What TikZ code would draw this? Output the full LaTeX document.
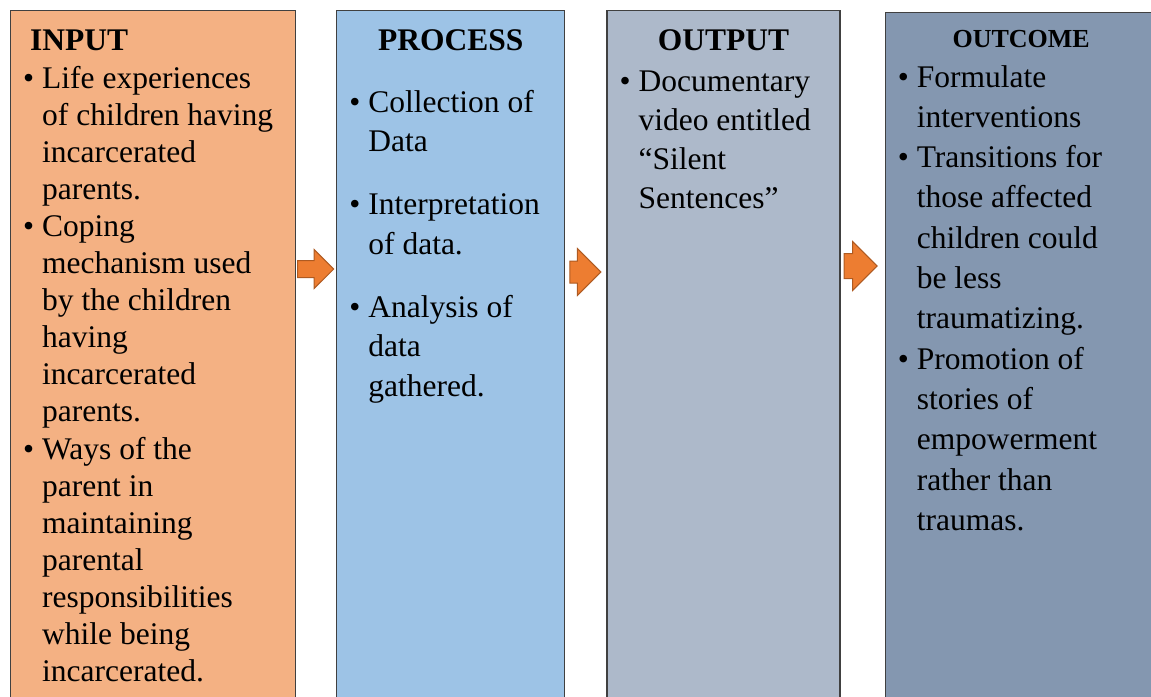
\documentclass[tikz,border=0pt]{standalone}
\usepackage{fontspec}
\setmainfont{Liberation Serif}
\usetikzlibrary{shapes.arrows,positioning,calc}

\definecolor{inputcol}{HTML}{F4B183}
\definecolor{processcol}{HTML}{9DC3E6}
\definecolor{outputcol}{HTML}{ADB9CA}
\definecolor{outcomecol}{HTML}{8497B0}
\definecolor{arrowcol}{HTML}{ED7D31}
\definecolor{arrowline}{HTML}{AE5A21}

\newcommand{\bul}{\makebox[24pt][l]{\hspace{5pt}\textbullet}}

\begin{document}
\begin{tikzpicture}[
      x=1pt,y=-1pt,
      box/.style={rectangle,draw=black!75,line width=1.2pt,anchor=north west,inner sep=0pt,minimum height=700},
      title/.style={font=\fontsize{31.5}{37}\selectfont\bfseries,inner sep=0pt},
      body/.style={inner sep=0pt,anchor=base west},
      arrow/.style={single arrow,draw=arrowline,fill=arrowcol,line width=1pt,inner xsep=0pt,anchor=tail,single arrow head extend=#1}
      ]

      \useasboundingbox (0,0) rectangle (1151,696);
      \clip (0,0) rectangle (1151,696);

      \node[box,fill=inputcol,minimum width=285] at (10,10) (input) {};
      \node[box,fill=processcol,minimum width=228,right=40pt of input.north east,anchor=north west] (process) {};
      \node[box,fill=outputcol,minimum width=233,right=41pt of process.north east,anchor=north west] (output) {};
      \node[box,fill=outcomecol,minimum width=272,right=44pt of output.north east,anchor=north west,yshift=-2pt] (outcome) {};

      \node[title,anchor=base west] at ($(input.north west)+(20,40)$) (inputtitle) {INPUT};
      \node[title,anchor=base] at ($(process.north)+(0,40)$) (processtitle) {PROCESS};
      \node[title,anchor=base] at ($(output.north)+(0,40)$) (outputtitle) {OUTPUT};
      \node[title,anchor=base,font=\fontsize{26}{30}\selectfont\bfseries] at ($(outcome.north)+(0,35)$) (outcometitle) {OUTCOME};

      \node[body,font=\fontsize{31.5}{37.1}\selectfont] at ($(input.north west)+(8,78)$) (inputtext) {%
        \begin{tabular}[t]{@{}l@{}l@{}}
          \bul & Life experiences\\
               & of children having\\
               & incarcerated\\
               & parents.\\
          \bul & Coping\\
               & mechanism used\\
               & by the children\\
               & having\\
               & incarcerated\\
               & parents.\\
          \bul & Ways of the\\
               & parent in\\
               & maintaining\\
               & parental\\
               & responsibilities\\
               & while being\\
               & incarcerated.
        \end{tabular}};

      \node[body,font=\fontsize{31.5}{39.5}\selectfont] at ($(process.north west)+(8,102)$) (processtext) {%
        \begin{tabular}[t]{@{}l@{}l@{}}
          \bul & Collection of\\
               & Data\\[23.5pt]
          \bul & Interpretation\\
               & of data.\\[23.5pt]
          \bul & Analysis of\\
               & data\\
               & gathered.
        \end{tabular}};

      \node[body,font=\fontsize{31.5}{39}\selectfont] at ($(output.north west)+(8,81)$) (outputtext) {%
        \begin{tabular}[t]{@{}l@{}l@{}}
          \bul & Documentary\\
               & video entitled\\
               & “Silent\\
               & Sentences”
        \end{tabular}};

      \node[body,font=\fontsize{31.5}{40.3}\selectfont] at ($(outcome.north west)+(8,75)$) (outcometext) {%
        \begin{tabular}[t]{@{}l@{}l@{}}
          \bul & Formulate\\
               & interventions\\
          \bul & Transitions for\\
               & those affected\\
               & children could\\
               & be less\\
               & traumatizing.\\
          \bul & Promotion of\\
               & stories of\\
               & empowerment\\
               & rather than\\
               & traumas.
        \end{tabular}};

      \node[arrow=11pt,inner ysep=8pt,minimum height=36] at ($(input.north east)+(1,259)$) (arrowa) {};
      \node[arrow=12.5pt,inner ysep=10.5pt,minimum height=31] at ($(process.north east)+(4,262)$) (arrowb) {};
      \node[arrow=12pt,inner ysep=12pt,minimum height=33] at ($(output.north east)+(3,256)$) (arrowc) {};

    \end{tikzpicture}
\end{document}
